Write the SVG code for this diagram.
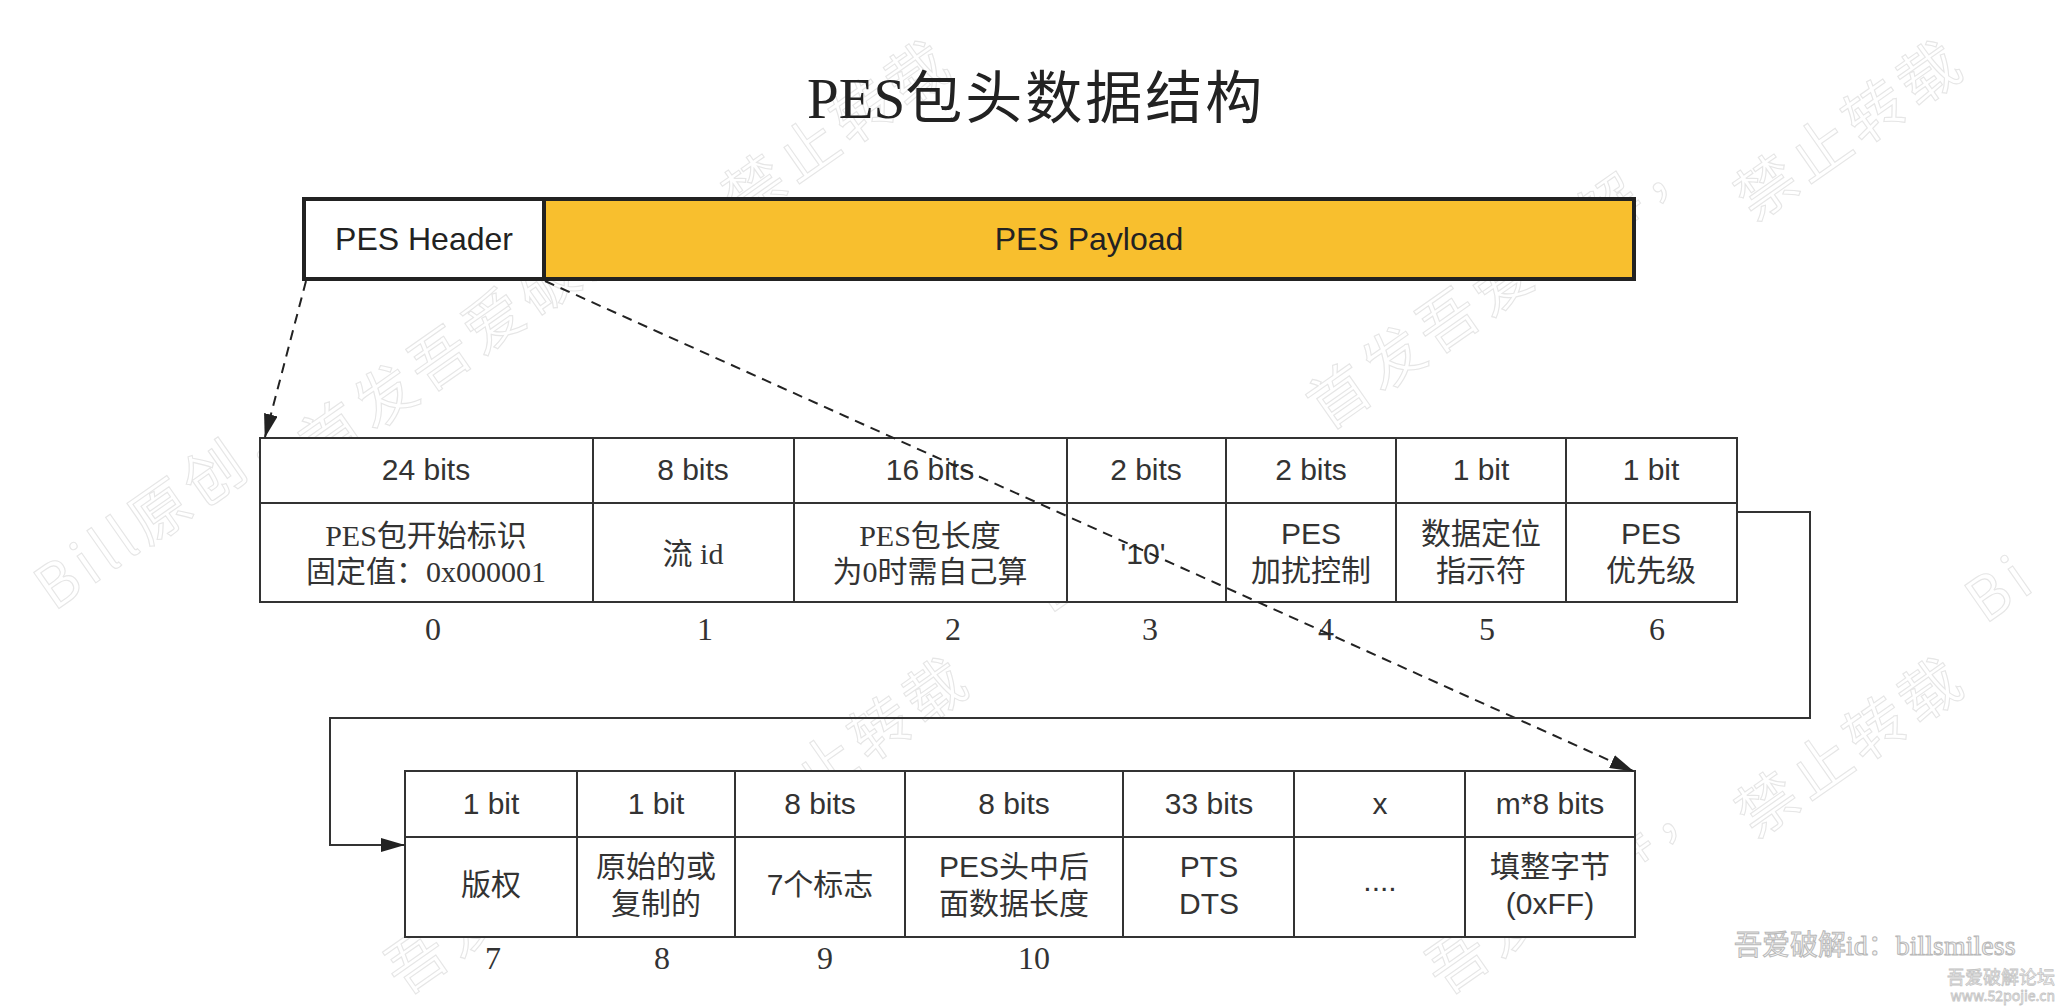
<svg xmlns="http://www.w3.org/2000/svg" width="2066" height="1006" viewBox="0 0 2066 1006">
<style>
.wm{font-family:"Noto Sans CJK SC","Liberation Sans",sans-serif;font-size:60px;fill:none;stroke:#e6e6e6;stroke-width:1.1;letter-spacing:6px}
.title{font-family:"Liberation Serif","Noto Sans CJK SC",serif;font-size:57px;fill:#222}
.bar{stroke:#222;stroke-width:4}
.cell{fill:#fff;stroke:#333;stroke-width:2}
.s{font-family:"Liberation Sans","Noto Sans CJK SC",sans-serif;font-size:30px;fill:#333;text-anchor:middle;dominant-baseline:central}
.h{font-family:"Liberation Sans","Noto Sans CJK SC",sans-serif;font-size:32px;fill:#222;text-anchor:middle;dominant-baseline:central}
.r{font-family:"Liberation Serif","Noto Sans CJK SC",serif;font-size:30px;fill:#333;text-anchor:middle;dominant-baseline:central}
.idx{font-family:"Liberation Serif",serif;font-size:32px;fill:#333;text-anchor:middle;dominant-baseline:central}
.dash{fill:none;stroke:#222;stroke-width:2;stroke-dasharray:10 7}
.conn{fill:none;stroke:#333;stroke-width:2}
.sig{font-family:"Liberation Serif","Noto Sans CJK SC",serif;font-size:28px;fill:#f4f4f4;stroke:#b8b8b8;stroke-width:1}
.sig2{font-family:"Noto Sans CJK SC","Liberation Sans",sans-serif;fill:#fafafa;stroke:#c4c4c4;stroke-width:0.8}
</style>
<defs>
<marker id="ah" markerUnits="userSpaceOnUse" markerWidth="24" markerHeight="14" viewBox="0 0 24 14" refX="23" refY="7" orient="auto">
<path d="M0,0 L24,7 L0,14 z" fill="#222"/>
</marker>
</defs>
<rect width="2066" height="1006" fill="#fff"/>

<g id="watermarks">
<text class="wm" transform="translate(54,612) rotate(-35)">Bill原创，</text>
<text class="wm" transform="translate(319,469) rotate(-35)">首发吾爱破解，</text>
<text class="wm" transform="translate(742,222) rotate(-35)">禁止转载</text>
<text class="wm" transform="translate(1050,615) rotate(-35)">Bill原创，</text>
<text class="wm" transform="translate(1327,431) rotate(-35)">首发吾爱破解，</text>
<text class="wm" transform="translate(1754,222) rotate(-35)">禁止转载</text>
<text class="wm" transform="translate(404,996) rotate(-35)">吾爱破解，</text>
<text class="wm" transform="translate(760,839) rotate(-35)">禁止转载</text>
<text class="wm" transform="translate(1445,996) rotate(-35)">吾爱破解，</text>
<text class="wm" transform="translate(1755,839) rotate(-35)">禁止转载</text>
<text class="wm" transform="translate(1985,625) rotate(-35)">Bi</text>
</g>

<g id="title">
<text class="title" x="807" y="118"><tspan>PES</tspan><tspan letter-spacing="3">包头数据结构</tspan></text>
</g>

<g id="pes-header">
<rect class="bar" x="304" y="199" width="240" height="80" fill="#fff"/>
<text class="h" x="424" y="239">PES Header</text>
</g>
<g id="pes-payload">
<rect class="bar" x="544" y="199" width="1090" height="80" fill="#F8BF2E"/>
<text class="h" x="1089" y="239">PES Payload</text>
</g>

<g id="field-0">
<rect class="cell" x="260" y="438" width="333" height="65"/>
<rect class="cell" x="260" y="503" width="333" height="99"/>
<text class="s" x="426" y="469">24 bits</text>
<text class="r" x="426" y="535">PES包开始标识</text>
<text class="r" x="426" y="571">固定值：0x000001</text>
<text class="idx" x="433" y="629">0</text>
</g>
<g id="field-1">
<rect class="cell" x="593" y="438" width="201" height="65"/>
<rect class="cell" x="593" y="503" width="201" height="99"/>
<text class="s" x="693" y="469">8 bits</text>
<text class="r" x="693" y="553">流 id</text>
<text class="idx" x="705" y="629">1</text>
</g>
<g id="field-2">
<rect class="cell" x="794" y="438" width="273" height="65"/>
<rect class="cell" x="794" y="503" width="273" height="99"/>
<text class="s" x="930" y="469">16 bits</text>
<text class="r" x="930" y="535">PES包长度</text>
<text class="r" x="930" y="571">为0时需自己算</text>
<text class="idx" x="953" y="629">2</text>
</g>
<g id="field-3">
<rect class="cell" x="1067" y="438" width="159" height="65"/>
<rect class="cell" x="1067" y="503" width="159" height="99"/>
<text class="s" x="1146" y="469">2 bits</text>
<text class="s" x="1143" y="553">'10'</text>
<text class="idx" x="1150" y="629">3</text>
</g>
<g id="field-4">
<rect class="cell" x="1226" y="438" width="170" height="65"/>
<rect class="cell" x="1226" y="503" width="170" height="99"/>
<text class="s" x="1311" y="469">2 bits</text>
<text class="s" x="1311" y="533">PES</text>
<text class="s" x="1311" y="570">加扰控制</text>
<text class="idx" x="1326" y="629">4</text>
</g>
<g id="field-5">
<rect class="cell" x="1396" y="438" width="170" height="65"/>
<rect class="cell" x="1396" y="503" width="170" height="99"/>
<text class="s" x="1481" y="469">1 bit</text>
<text class="s" x="1481" y="533">数据定位</text>
<text class="s" x="1481" y="570">指示符</text>
<text class="idx" x="1487" y="629">5</text>
</g>
<g id="field-6">
<rect class="cell" x="1566" y="438" width="171" height="65"/>
<rect class="cell" x="1566" y="503" width="171" height="99"/>
<text class="s" x="1651" y="469">1 bit</text>
<text class="s" x="1651" y="533">PES</text>
<text class="s" x="1651" y="570">优先级</text>
<text class="idx" x="1657" y="629">6</text>
</g>

<g id="field-7">
<rect class="cell" x="405" y="771" width="172" height="66"/>
<rect class="cell" x="405" y="837" width="172" height="100"/>
<text class="s" x="491" y="803">1 bit</text>
<text class="s" x="491" y="884">版权</text>
<text class="idx" x="493" y="958">7</text>
</g>
<g id="field-8">
<rect class="cell" x="577" y="771" width="158" height="66"/>
<rect class="cell" x="577" y="837" width="158" height="100"/>
<text class="s" x="656" y="803">1 bit</text>
<text class="s" x="656" y="866">原始的或</text>
<text class="s" x="656" y="903">复制的</text>
<text class="idx" x="662" y="958">8</text>
</g>
<g id="field-9">
<rect class="cell" x="735" y="771" width="170" height="66"/>
<rect class="cell" x="735" y="837" width="170" height="100"/>
<text class="s" x="820" y="803">8 bits</text>
<text class="s" x="820" y="884">7个标志</text>
<text class="idx" x="825" y="958">9</text>
</g>
<g id="field-10">
<rect class="cell" x="905" y="771" width="218" height="66"/>
<rect class="cell" x="905" y="837" width="218" height="100"/>
<text class="s" x="1014" y="803">8 bits</text>
<text class="s" x="1014" y="866">PES头中后</text>
<text class="s" x="1014" y="903">面数据长度</text>
<text class="idx" x="1034" y="958">10</text>
</g>
<g id="field-pts">
<rect class="cell" x="1123" y="771" width="171" height="66"/>
<rect class="cell" x="1123" y="837" width="171" height="100"/>
<text class="s" x="1209" y="803">33 bits</text>
<text class="s" x="1209" y="866">PTS</text>
<text class="s" x="1209" y="903">DTS</text>
</g>
<g id="field-x">
<rect class="cell" x="1294" y="771" width="171" height="66"/>
<rect class="cell" x="1294" y="837" width="171" height="100"/>
<text class="s" x="1380" y="803">x</text>
<text class="s" x="1380" y="880">....</text>
</g>
<g id="field-stuffing">
<rect class="cell" x="1465" y="771" width="170" height="66"/>
<rect class="cell" x="1465" y="837" width="170" height="100"/>
<text class="s" x="1550" y="803">m*8 bits</text>
<text class="s" x="1550" y="866">填整字节</text>
<text class="s" x="1550" y="903">(0xFF)</text>
</g>

<g id="connectors">
<path class="dash" d="M306,281 L265,437" marker-end="url(#ah)"/>
<path class="dash" d="M545,281 L1633,771" marker-end="url(#ah)"/>
<path class="conn" d="M1737,512 H1810 V718 H330 V845 H404" marker-end="url(#ah)"/>
</g>

<g id="signature">
<text class="sig" x="1734" y="955">吾爱破解id：billsmiless</text>
<text class="sig2" x="2055" y="984" font-size="18" text-anchor="end">吾爱破解论坛</text>
<text class="sig2" x="2055" y="1001" font-size="14" text-anchor="end">www.52pojie.cn</text>
</g>
</svg>
